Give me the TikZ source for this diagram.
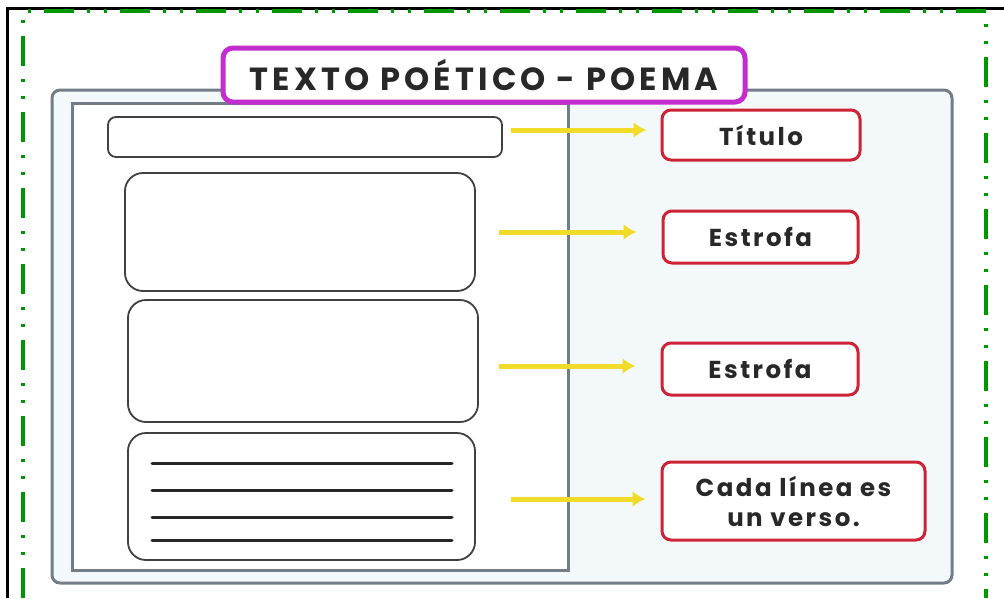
\documentclass[tikz,border=0pt]{standalone}
\usepackage{fontspec}
\setmainfont{Poppins}
\usetikzlibrary{positioning,arrows.meta}

\definecolor{verde}{RGB}{0,150,0}
\definecolor{magenta}{RGB}{195,45,205}
\definecolor{rojo}{RGB}{205,35,55}
\definecolor{gris}{RGB}{115,125,135}
\definecolor{amarillo}{RGB}{240,220,40}
\definecolor{celeste}{RGB}{243,248,251}
\definecolor{tinta}{RGB}{40,40,40}

\tikzset{
  caja/.style={draw=black!75, line width=1.8pt, fill=white, rounded corners=#1},
  caja/.default=8pt,
  etiqueta/.style={draw=rojo, line width=3pt, fill=white, rounded corners=9pt,
    text=tinta, align=center,
    font=\fontsize{24.5}{30}\selectfont\bfseries\addfontfeature{LetterSpace=10}},
  flecha/.style={draw=amarillo, line width=5pt,
    -{Latex[length=13pt,width=16pt]}},
  verso/.style={line width=3pt, black!85, line cap=round}
}

\begin{document}
\begin{tikzpicture}[x=1pt,y=-1pt]
\useasboundingbox (0,0) rectangle (1004,598);

% marco de la hoja
\draw[line width=3pt] (7,598) -- (7,8) -- (1004,8);
\draw[verde, line width=4pt,
  dash pattern=on 30pt off 13pt on 3pt off 14pt on 3pt off 13pt]
  (23,598) -- (23,11) -- (986,11) -- (986,598);

% fondo
\draw[gris, line width=3pt, fill=celeste, rounded corners=8pt] (52,90) rectangle (952,583);
\draw[gris, line width=3pt, fill=white] (72,103) rectangle (568,570);

% titulo
\node[draw=magenta, line width=5pt, fill=white, rounded corners=10pt,
  minimum width=522pt, minimum height=54pt,
  font=\fontsize{32}{34}\selectfont\bfseries\addfontfeature{LetterSpace=13},
  text=tinta] (cabecera) at (484,75)
  {TEXTO POÉTICO - POEMA};

% partes del poema
\node[caja, minimum width=394pt, minimum height=40pt] (titulo) at (305,137) {};
\node[caja=18pt, minimum width=350pt, minimum height=118pt] (estrofaA) at (300,232) {};
\node[caja=18pt, minimum width=350pt, minimum height=122pt] (estrofaB) at (303,361) {};
\node[caja=18pt, minimum width=347pt, minimum height=127pt] (versos) at (301.5,496.5) {};
\foreach \y in {463,490,517,540}
  \draw[verso] (152,\y) -- (452,\y);

% nombres
\node[etiqueta, minimum width=198pt, minimum height=50pt] (nomTitulo) at (761,135) {Título};
\node[etiqueta, minimum width=195pt, minimum height=52pt] (nomEstrofaA) at (760.5,237) {Estrofa};
\node[etiqueta, minimum width=196pt, minimum height=52pt] (nomEstrofaB) at (760,369) {Estrofa};
\node[etiqueta, minimum width=263pt, minimum height=78pt] (nomVerso) at (793.5,501)
  {Cada línea es\\un verso.};

% flechas
\draw[flecha, shorten <=8pt, shorten >=14pt]
  ([yshift=7pt]titulo.east) -- ([yshift=7pt]titulo.east -| nomTitulo.west);
\draw[flecha, shorten <=23pt, shorten >=25pt]
  (estrofaA.east) -- (estrofaA.east -| nomEstrofaA.west);
\draw[flecha, shorten <=20pt, shorten >=25pt]
  ([yshift=-5pt]estrofaB.east) -- ([yshift=-5pt]estrofaB.east -| nomEstrofaB.west);
\draw[flecha, shorten <=35pt, shorten >=15pt]
  ([yshift=-2.5pt]versos.east) -- ([yshift=-2.5pt]versos.east -| nomVerso.west);
\end{tikzpicture}
\end{document}
